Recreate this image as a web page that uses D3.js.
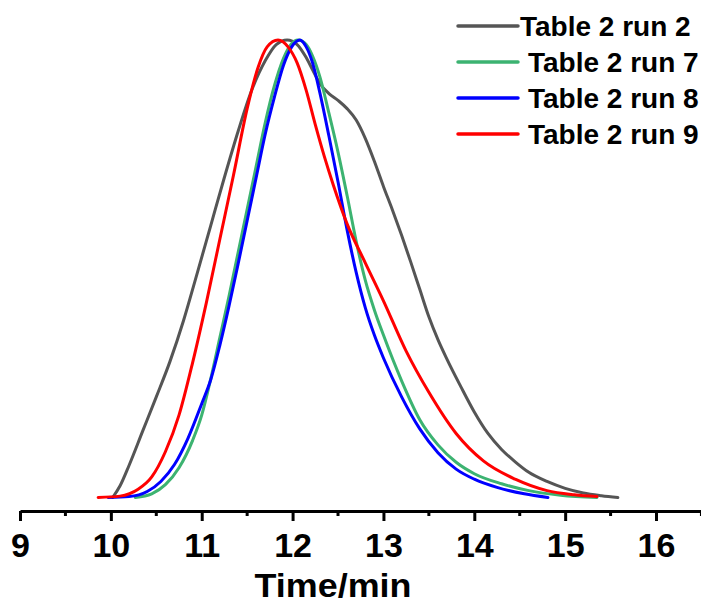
<!DOCTYPE html>
<html>
<head>
<meta charset="utf-8">
<script src="https://cdn.jsdelivr.net/npm/d3@7"></script>
<style>
  body { margin: 0; background: #fff; }
  text { font-family: "Liberation Sans", Arial, sans-serif; font-weight: bold; fill: #000; }
</style>
</head>
<body>
<svg id="chart" width="701" height="606"></svg>
<script>
// time (min), normalised signal
const run2 = [
  [10.02, 0], [10.1, 0.025], [10.2, 0.07], [10.35, 0.145], [10.5, 0.22], [10.65, 0.297],
  [10.8, 0.387], [10.95, 0.49], [11.1, 0.595], [11.25, 0.7], [11.4, 0.8], [11.55, 0.89],
  [11.7, 0.955], [11.82, 0.99], [11.94, 1.0], [12.05, 0.99], [12.14, 0.965], [12.22, 0.935],
  [12.3, 0.905], [12.4, 0.883], [12.5, 0.868], [12.6, 0.85], [12.7, 0.825], [12.8, 0.785],
  [12.9, 0.735], [13.0, 0.68], [13.1, 0.628], [13.2, 0.573], [13.3, 0.515], [13.4, 0.455],
  [13.5, 0.395], [13.6, 0.345], [13.7, 0.302], [13.85, 0.243], [14.0, 0.187], [14.15, 0.14],
  [14.3, 0.105], [14.45, 0.078], [14.6, 0.055], [14.8, 0.035], [15.0, 0.02], [15.2, 0.01],
  [15.4, 0.004], [15.58, 0]
];
const run7 = [
  [10.27, 0], [10.45, 0.008], [10.6, 0.028], [10.75, 0.065], [10.9, 0.125], [11.0, 0.18],
  [11.1, 0.26], [11.2, 0.35], [11.3, 0.44], [11.4, 0.535], [11.5, 0.63], [11.6, 0.725],
  [11.7, 0.82], [11.8, 0.9], [11.9, 0.96], [11.98, 0.99], [12.06, 1.0], [12.15, 0.99],
  [12.22, 0.965], [12.3, 0.92], [12.4, 0.84], [12.5, 0.755], [12.6, 0.66], [12.7, 0.56],
  [12.8, 0.475], [12.9, 0.41], [13.0, 0.355], [13.2, 0.255], [13.4, 0.17], [13.6, 0.115],
  [13.8, 0.077], [14.0, 0.052], [14.3, 0.03], [14.6, 0.015], [14.95, 0.005], [15.35, 0]
];
const run8 = [
  [9.97, 0], [10.2, 0.002], [10.4, 0.013], [10.55, 0.035], [10.7, 0.072], [10.85, 0.13],
  [11.0, 0.205], [11.1, 0.258], [11.2, 0.333], [11.3, 0.418], [11.4, 0.51], [11.5, 0.605],
  [11.6, 0.7], [11.7, 0.795], [11.8, 0.875], [11.9, 0.945], [11.99, 0.985], [12.08, 1.0],
  [12.15, 0.985], [12.22, 0.95], [12.3, 0.885], [12.4, 0.79], [12.5, 0.69], [12.6, 0.585],
  [12.7, 0.492], [12.8, 0.415], [12.9, 0.355], [13.0, 0.305], [13.2, 0.22], [13.4, 0.15],
  [13.6, 0.098], [13.8, 0.062], [14.0, 0.04], [14.25, 0.022], [14.55, 0.008], [14.81, 0]
];
const run9 = [
  [9.86, 0], [10.1, 0.003], [10.3, 0.018], [10.45, 0.045], [10.6, 0.1], [10.75, 0.18],
  [10.9, 0.295], [11.05, 0.425], [11.2, 0.565], [11.35, 0.705], [11.5, 0.85], [11.62, 0.94],
  [11.72, 0.985], [11.84, 1.0], [11.95, 0.985], [12.05, 0.95], [12.15, 0.89], [12.25, 0.815],
  [12.35, 0.745], [12.45, 0.682], [12.6, 0.598], [12.8, 0.513], [13.0, 0.43], [13.25, 0.32],
  [13.5, 0.23], [13.8, 0.14], [14.1, 0.08], [14.45, 0.04], [14.8, 0.015], [15.1, 0.006],
  [15.35, 0.002]
];

const seriesNames = ["Table 2 run 2", "Table 2 run 7", "Table 2 run 8", "Table 2 run 9"];
const seriesData = [run2, run7, run8, run9];
const seriesColors = ["#555555", "#3cb371", "#0000ff", "#ff0000"];
const majorTicks = [9, 10, 11, 12, 13, 14, 15, 16];
const minorTicks = [9.5, 10.5, 11.5, 12.5, 13.5, 14.5, 15.5, 16.5];

const svg = d3.select("#chart");

const x = d3.scaleLinear().domain([9, 16.5]).range([20, 701.45]);
const y = d3.scaleLinear().domain([0, 1]).range([497.5, 40]);
const axisY = 511;

const line = d3.line()
    .x(d => x(d[0]))
    .y(d => y(d[1]))
    .curve(d3.curveMonotoneX);

// curves (run 2 drawn first so the others sit on top)
svg.selectAll("path.curve")
    .data(seriesData)
  .enter().append("path")
    .attr("class", "curve")
    .attr("d", line)
    .attr("fill", "none")
    .attr("stroke", (d, i) => seriesColors[i])
    .attr("stroke-width", 3)
    .attr("stroke-linejoin", "round")
    .attr("stroke-linecap", "round");

// x axis
const xAxis = svg.append("g")
    .attr("transform", `translate(0,${axisY})`)
    .call(d3.axisBottom(x).tickValues(majorTicks).tickSize(10).tickSizeOuter(0).tickPadding(12));
xAxis.select(".domain").attr("stroke", "#000").attr("stroke-width", 3);
xAxis.selectAll(".tick line").attr("stroke", "#000").attr("stroke-width", 3);
xAxis.selectAll(".tick text")
    .attr("font-family", "Liberation Sans, Arial, sans-serif")
    .attr("font-weight", "bold")
    .attr("font-size", 34)
    .attr("fill", "#000");

svg.append("g")
    .attr("transform", `translate(0,${axisY})`)
    .selectAll("line")
    .data(minorTicks)
  .enter().append("line")
    .attr("x1", d => x(d)).attr("x2", d => x(d))
    .attr("y1", 0).attr("y2", 5)
    .attr("stroke", "#000").attr("stroke-width", 3);

svg.append("text")
    .attr("x", 333)
    .attr("y", 597)
    .attr("text-anchor", "middle")
    .attr("font-size", 33)
    .attr("textLength", 157)
    .attr("lengthAdjust", "spacingAndGlyphs")
    .text("Time/min");

// legend
const legend = svg.append("g");
const rows = legend.selectAll("g")
    .data(seriesNames)
  .enter().append("g")
    .attr("transform", (d, i) => `translate(0,${26 + i * 36})`);
rows.append("line")
    .attr("x1", 458).attr("x2", 518)
    .attr("y1", 0).attr("y2", 0)
    .attr("stroke", (d, i) => seriesColors[i])
    .attr("stroke-width", 3.5)
    .attr("stroke-linecap", "round");
rows.append("text")
    .attr("x", (d, i) => i === 0 ? 520 : 528)
    .attr("y", 10)
    .attr("font-size", 28)
    .text(d => d);
</script>
</body>
</html>
